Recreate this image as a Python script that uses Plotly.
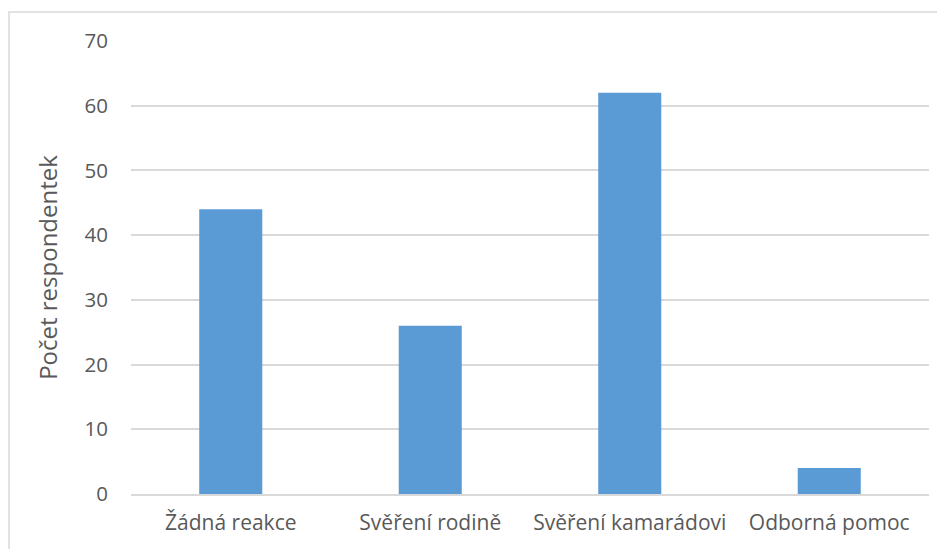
import plotly.graph_objects as go

categories = ["Žádná reakce", "Svěření rodině", "Svěření kamarádovi", "Odborná pomoc"]
values = [44, 26, 62, 4]
y_ticks = [0, 10, 20, 30, 40, 50, 60, 70]
y_title = "Počet respondentek"

# page body has an 8px offset
W, H = 937, 541
L, T = 123, 33
R = W - 921
B = H - 486
pw, ph = W - L - R, H - T - B

fig = go.Figure(go.Bar(x=categories, y=values, marker=dict(color="#5B9BD5", line=dict(width=0)), hoverinfo="x+y"))

fig.update_layout(
    width=W, height=H,
    margin=dict(l=L, r=R, t=T, b=B),
    paper_bgcolor="white", plot_bgcolor="white",
    bargap=0.684,
    font=dict(family="Open Sans, Liberation Sans, sans-serif", color="#595959", size=21),
    showlegend=False,
    xaxis=dict(showgrid=False, showline=True, linecolor="#D9D9D9", linewidth=1.5, ticks="",
               tickfont=dict(size=21), ticklabelstandoff=9),
    yaxis=dict(range=[0, 70], tickvals=y_ticks, showgrid=True, gridcolor="#D9D9D9", gridwidth=1.5,
               zeroline=False, showline=False, ticks="", tickfont=dict(size=20.5),
               ticklabelstandoff=22,
               title=dict(text=y_title, font=dict(size=24), standoff=20)),
    shapes=[dict(type="rect", xref="paper", yref="paper",
                 x0=(1 - L) / pw, x1=(W + 20 - L) / pw,
                 y0=(H - B - (H + 20)) / ph, y1=(H - B - 4) / ph,
                 line=dict(color="#D9D9D9", width=1.5), fillcolor="rgba(0,0,0,0)", layer="below")],
)

fig.write_html("out.html")
